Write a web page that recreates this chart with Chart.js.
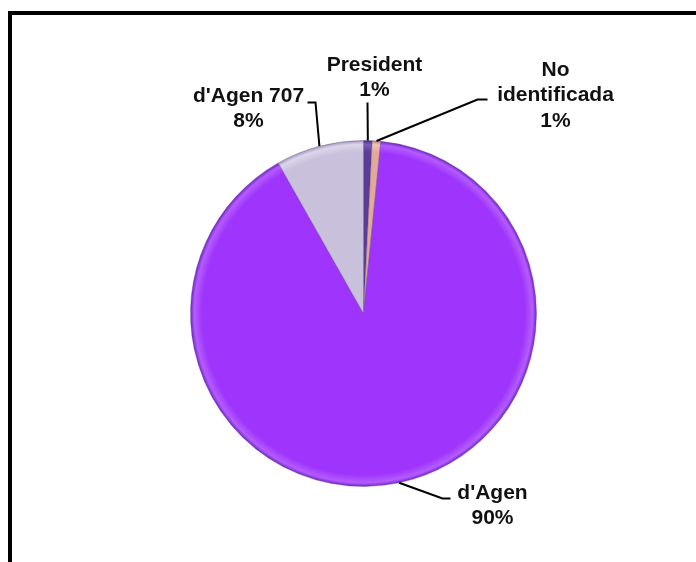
<!DOCTYPE html>
<html>
<head>
<meta charset="utf-8">
<script src="https://cdn.jsdelivr.net/npm/chart.js@4"></script>
<style>
  html, body { margin: 0; padding: 0; background: #fff; }
  #wrap { width: 696px; height: 562px; position: relative; }
</style>
</head>
<body>
<div id="wrap"><canvas id="pie"></canvas></div>
<script>
'use strict';

// data (clockwise from 12 o'clock)
const categories = ['President', 'No identificada', "d'Agen", "d'Agen 707"];
const shares = [0.8, 0.8, 90.2, 8.2];
const shownPct = ['1%', '1%', '90%', '8%'];

const sliceColors = ['#5b3d96', '#e2a898', '#9f35fc', '#c9c0dc'];
const rimColors = ['#7a5cb8', '#f2c4b6', '#b45cff', '#dcd6ea'];
const edgeColors = ['#3e2870', '#b07c6e', '#6c1fc0', '#9a90b4'];

// label layout, offsets from pie centre: text centre x / first baseline, elbow, end of tick
const labelLines = [['President'], ['No', 'identificada'], ["d'Agen"], ["d'Agen 707"]];
const labelPos = [
  { tx: 11, ty: -243, ex: 4, ey: -211, hx: 4 },
  { tx: 192, ty: -238, ex: 114, ey: -214, hx: 124 },
  { tx: 129, ty: 185, ex: 79, ey: 185, hx: 87 },
  { tx: -115, ty: -212, ex: -48, ey: -211, hx: -56 }
];

function sliceFill(ctx) {
  const i = ctx.dataIndex;
  const chart = ctx.chart;
  const a = chart.chartArea;
  if (!a || i === undefined) return sliceColors[i || 0];
  const cx = (a.left + a.right) / 2, cy = (a.top + a.bottom) / 2;
  const r = Math.min(a.right - a.left, a.bottom - a.top) / 2;
  const g = chart.ctx.createRadialGradient(cx, cy, 0, cx, cy, r);
  g.addColorStop(0, sliceColors[i]);
  g.addColorStop(0.93, sliceColors[i]);
  g.addColorStop(0.975, rimColors[i]);
  g.addColorStop(1, edgeColors[i]);
  return g;
}

const framePlugin = {
  id: 'frame',
  beforeDraw(chart) {
    const c = chart.ctx;
    c.save();
    c.strokeStyle = '#000';
    c.lineWidth = 4;
    c.strokeRect(10, 13, 800, 700);
    c.restore();
  }
};

const labelPlugin = {
  id: 'pieLabels',
  afterDatasetsDraw(chart) {
    const c = chart.ctx;
    const meta = chart.getDatasetMeta(0);
    c.save();
    meta.data.forEach(function (arc, i) {
      const p = arc.getProps(['x', 'y', 'startAngle', 'endAngle', 'outerRadius'], true);
      const mid = (p.startAngle + p.endAngle) / 2;
      const ax = p.x + Math.cos(mid) * p.outerRadius;
      const ay = p.y + Math.sin(mid) * p.outerRadius;
      const lp = labelPos[i];
      c.strokeStyle = '#000';
      c.lineWidth = 2;
      c.beginPath();
      c.moveTo(ax, ay);
      c.lineTo(p.x + lp.ex, p.y + lp.ey);
      c.lineTo(p.x + lp.hx, p.y + lp.ey);
      c.stroke();

      c.fillStyle = '#111';
      c.font = 'bold 21px "Liberation Sans", Arial, sans-serif';
      c.textAlign = 'center';
      c.textBaseline = 'alphabetic';
      const lines = labelLines[i].concat([shownPct[i]]);
      const lh = 25.5;
      lines.forEach(function (t, k) {
        c.fillText(t, p.x + lp.tx, p.y + lp.ty + k * lh);
      });
    });
    c.restore();
  }
};

new Chart(document.getElementById('pie'), {
  type: 'pie',
  data: {
    labels: categories,
    datasets: [{
      data: shares,
      backgroundColor: sliceFill,
      borderColor: 'rgba(90,60,130,0.35)',
      borderWidth: 1
    }]
  },
  options: {
    responsive: true,
    maintainAspectRatio: false,
    animation: false,
    layout: { padding: { top: 140, bottom: 75, left: 190, right: 159 } },
    plugins: {
      legend: { display: false },
      tooltip: { enabled: false }
    }
  },
  plugins: [framePlugin, labelPlugin]
});
</script>
</body>
</html>
